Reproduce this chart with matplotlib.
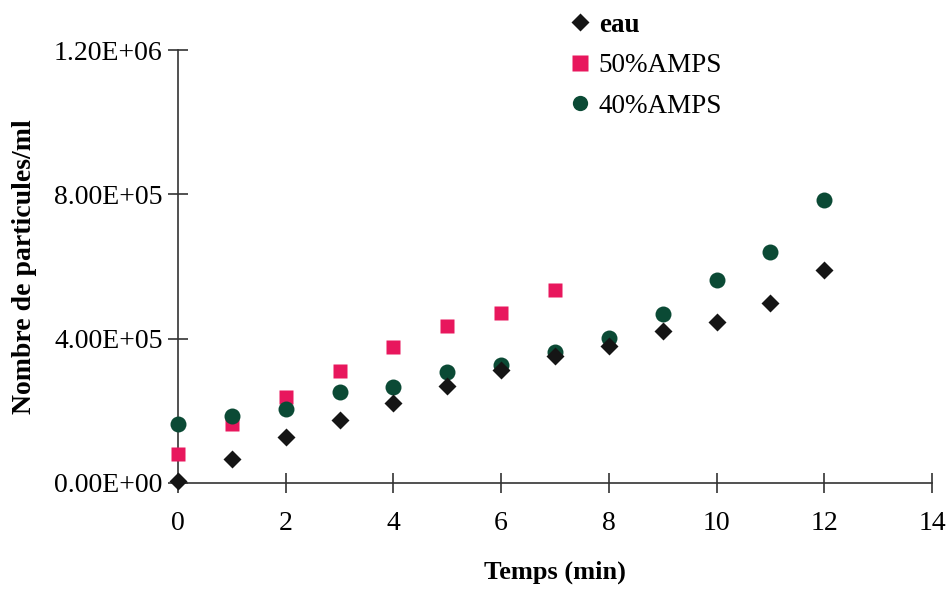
import matplotlib
matplotlib.use("Agg")
import matplotlib.pyplot as plt
from matplotlib.lines import Line2D

plt.rcParams['font.family'] = ['Liberation Serif', 'DejaVu Serif']

t_eau = [0, 1, 2, 3, 4, 5, 6, 7, 8, 9, 10, 11, 12]
eau = [5e3, 0.67e5, 1.27e5, 1.75e5, 2.22e5, 2.69e5, 3.13e5, 3.52e5, 3.80e5, 4.20e5, 4.45e5, 4.99e5, 5.90e5]
t_50 = [0, 1, 2, 3, 4, 5, 6, 7]
amps50 = [0.80e5, 1.64e5, 2.38e5, 3.10e5, 3.77e5, 4.35e5, 4.71e5, 5.35e5]
t_40 = [0, 1, 2, 3, 4, 5, 6, 7, 8, 9, 10, 11, 12]
amps40 = [1.64e5, 1.86e5, 2.05e5, 2.52e5, 2.66e5, 3.08e5, 3.27e5, 3.63e5, 4.01e5, 4.68e5, 5.63e5, 6.41e5, 7.83e5]

yticks = [0, 4e5, 8e5, 1.2e6]
ytick_labels = ['0.00E+00', '4.00E+05', '8.00E+05', '1.20E+06']
xticks = [0, 2, 4, 6, 8, 10, 12, 14]

c_eau = '#151515'
c_50 = '#E8175D'
c_40 = '#0B4A35'

fig = plt.figure(figsize=(9.49, 5.89), dpi=100)
ax = fig.add_axes([178/949, 1-483/589, (932-178)/949, (483-50)/589])

ax.plot(t_50, amps50, 's', color=c_50, ms=10.5, mec='none', clip_on=False, zorder=3)
ax.plot(t_40, amps40, 'o', color=c_40, ms=11.5, mec='none', clip_on=False, zorder=4)
ax.plot(t_eau, eau, 'D', color=c_eau, ms=9.5, mec='none', clip_on=False, zorder=5)

ax.set_xlim(0, 14)
ax.set_ylim(0, 1.2e6)
ax.set_xticks(xticks)
ax.set_xticklabels([str(v) for v in xticks])
ax.set_yticks(yticks)
ax.set_yticklabels(ytick_labels)
for s in ['top', 'right']:
    ax.spines[s].set_visible(False)
for s in ['left', 'bottom']:
    ax.spines[s].set_color('#333333')
    ax.spines[s].set_linewidth(1.2)
ax.tick_params(axis='both', direction='inout', length=14, width=1.2, color='#333333',
               labelsize=20, pad=4)
ax.tick_params(axis='x', pad=13)

ax.set_xlabel('Temps (min)', fontsize=19, fontweight='bold', labelpad=18)
ax.set_ylabel('Nombre de particules/ml', fontsize=20, fontweight='bold', labelpad=12)

handles = [
    Line2D([], [], marker='D', color=c_eau, ls='none', ms=9, mec='none'),
    Line2D([], [], marker='s', color=c_50, ls='none', ms=11, mec='none'),
    Line2D([], [], marker='o', color=c_40, ls='none', ms=11, mec='none'),
]
leg = fig.legend(handles, ['eau', '50%AMPS', '40%AMPS'], loc='upper left',
                 bbox_to_anchor=(558/949, 1+1/589), frameon=False, fontsize=19.5,
                 handlelength=0.6, handletextpad=0.4, labelspacing=0.58, borderpad=0)
leg.get_texts()[0].set_fontweight('bold')

fig.savefig('out.png', dpi=100)
